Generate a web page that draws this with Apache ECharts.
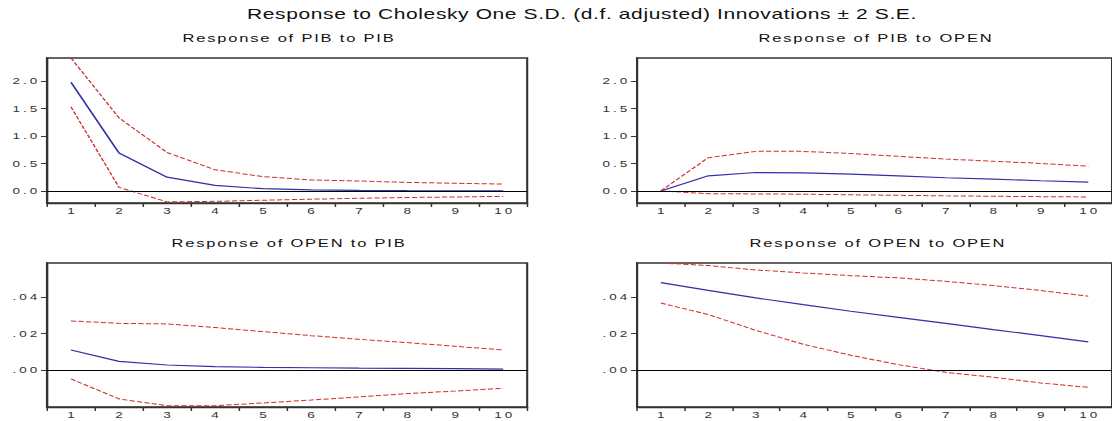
<!DOCTYPE html>
<html><head><meta charset="utf-8">
<script src="https://cdn.jsdelivr.net/npm/echarts@6/dist/echarts.min.js"></script>
<style>
html,body{margin:0;padding:0;background:#fff;overflow:hidden;width:1112px;height:421px;}
#c{width:741px;height:421px;transform:scaleX(1.5007);transform-origin:0 0;}
#c text[style*="14px"]{letter-spacing:0.4px;}
#c text[style*="11px"]{letter-spacing:1.2px;}
#c text[style*="9px"]{letter-spacing:2px;}
</style></head><body><div id="c"></div>
<script>
// ---- data ----
const mainTitle = 'Response to Cholesky One S.D. (d.f. adjusted) Innovations \u00b1 2 S.E.';
const panelTitles = ['Response of PIB to PIB', 'Response of PIB to OPEN', 'Response of OPEN to PIB', 'Response of OPEN to OPEN'];
const periods = ['1','2','3','4','5','6','7','8','9','10'];

const pibPib   = [1.98, 0.69, 0.25, 0.10, 0.04, 0.02, 0.01, 0.005, 0.003, 0.002];
const pibPibUp = [2.42, 1.33, 0.70, 0.385, 0.26, 0.20, 0.18, 0.155, 0.14, 0.125];
const pibPibLo = [1.53, 0.065, -0.20, -0.19, -0.17, -0.15, -0.135, -0.12, -0.11, -0.10];

const pibOpen   = [0, 0.275, 0.335, 0.33, 0.305, 0.275, 0.24, 0.214, 0.185, 0.16];
const pibOpenUp = [0, 0.605, 0.72, 0.72, 0.68, 0.63, 0.58, 0.54, 0.50, 0.45];
const pibOpenLo = [0, -0.05, -0.055, -0.06, -0.07, -0.08, -0.09, -0.097, -0.104, -0.11];

const openPib   = [0.0111, 0.0049, 0.0029, 0.0020, 0.0016, 0.0014, 0.0012, 0.0011, 0.0009, 0.0007];
const openPibUp = [0.0269, 0.0256, 0.0253, 0.0233, 0.0211, 0.0189, 0.0169, 0.0151, 0.0131, 0.0111];
const openPibLo = [-0.0047, -0.0156, -0.0193, -0.0193, -0.0178, -0.0162, -0.0145, -0.0127, -0.0113, -0.0098];

const openOpen   = [0.0478, 0.0436, 0.0395, 0.0358, 0.0322, 0.0289, 0.0256, 0.0222, 0.0189, 0.0155];
const openOpenUp = [0.0585, 0.0571, 0.0547, 0.0531, 0.0516, 0.0504, 0.0485, 0.0462, 0.0435, 0.0404];
const openOpenLo = [0.0367, 0.0304, 0.0218, 0.0142, 0.0082, 0.0031, -0.0011, -0.0038, -0.0069, -0.0093];

const topTicks = [0, 0.5, 1.0, 1.5, 2.0];
const botTicks = [0, 0.02, 0.04];
const topRange = [-0.22, 2.42];
const botRange = [-0.02, 0.0585];

// ---- chart (drawn in a 741px wide box, stretched horizontally like the EViews export) ----
const FONT = 'Liberation Sans';
const BLUE = '#3030a8', RED = '#cc3030', AX = '#333';
const grids = [
  {left: 31.3, top: 58, width: 320, height: 145},
  {left: 424.5, top: 58, width: 320, height: 145},
  {left: 31.3, top: 263, width: 320, height: 144},
  {left: 424.5, top: 263, width: 320, height: 144}
].map(g => Object.assign(g, {show: true, borderColor: AX, borderWidth: 1.4, backgroundColor: 'transparent'}));

const fmtTop = v => v.toFixed(1);
const fmtBot = v => v.toFixed(2).replace(/^0\./, '.');

const xAxes = grids.map((g, i) => ({
  type: 'category', gridIndex: i, data: periods, boundaryGap: true,
  axisLine: {show: true, onZero: false, lineStyle: {color: AX, width: 1.4}},
  axisTick: {show: true, length: 4, interval: 0, lineStyle: {color: AX, width: 1}},
  axisLabel: {interval: 0, fontSize: 9, fontFamily: FONT, color: '#333', margin: 3, padding: [0, 0, 0, 2]},
  splitLine: {show: false}
}));
const yAxes = grids.map((g, i) => {
  const top = i < 2;
  const ticks = top ? topTicks : botTicks;
  const r = top ? topRange : botRange;
  return {
    type: 'value', gridIndex: i, min: r[0], max: r[1], scale: true,
    axisLine: {show: true, onZero: false, lineStyle: {color: AX, width: 1.4}},
    axisTick: {show: true, length: 4, customValues: ticks, lineStyle: {color: AX, width: 1}},
    axisLabel: {customValues: ticks, formatter: top ? fmtTop : fmtBot, fontSize: 9, fontFamily: FONT, color: '#333', margin: 4.5},
    splitLine: {show: false}
  };
});

function panel(i, mid, up, lo) {
  const base = {type: 'line', xAxisIndex: i, yAxisIndex: i, symbol: 'none', showSymbol: false, silent: true};
  return [
    Object.assign({}, base, {data: mid, lineStyle: {color: BLUE, width: 1.2}, z: 3,
      markLine: {silent: true, symbol: ['none', 'none'], label: {show: false},
        lineStyle: {color: '#000', type: 'solid', width: 1.2}, data: [{yAxis: 0}]}}),
    Object.assign({}, base, {data: up, lineStyle: {color: RED, width: 1, type: [3.5, 1.5]}}),
    Object.assign({}, base, {data: lo, lineStyle: {color: RED, width: 1, type: [3.5, 1.5]}})
  ];
}

const titleStyle = (size) => ({fontSize: size, fontWeight: 'normal', fontFamily: FONT, color: '#111'});
const titles = [
  {text: mainTitle, left: 387.8, top: 7, textAlign: 'center', padding: 0, textStyle: titleStyle(14)},
  {text: panelTitles[0], left: 192.6, top: 33, textAlign: 'center', padding: 0, textStyle: titleStyle(11)},
  {text: panelTitles[1], left: 583.7, top: 33, textAlign: 'center', padding: 0, textStyle: titleStyle(11)},
  {text: panelTitles[2], left: 192.6, top: 238, textAlign: 'center', padding: 0, textStyle: titleStyle(11)},
  {text: panelTitles[3], left: 585, top: 238, textAlign: 'center', padding: 0, textStyle: titleStyle(11)}
];

const chart = echarts.init(document.getElementById('c'), null, {renderer: 'svg'});
chart.setOption({
  animation: false,
  backgroundColor: '#fff',
  title: titles,
  grid: grids,
  xAxis: xAxes,
  yAxis: yAxes,
  series: [].concat(
    panel(0, pibPib, pibPibUp, pibPibLo),
    panel(1, pibOpen, pibOpenUp, pibOpenLo),
    panel(2, openPib, openPibUp, openPibLo),
    panel(3, openOpen, openOpenUp, openOpenLo)
  )
});
</script></body></html>
